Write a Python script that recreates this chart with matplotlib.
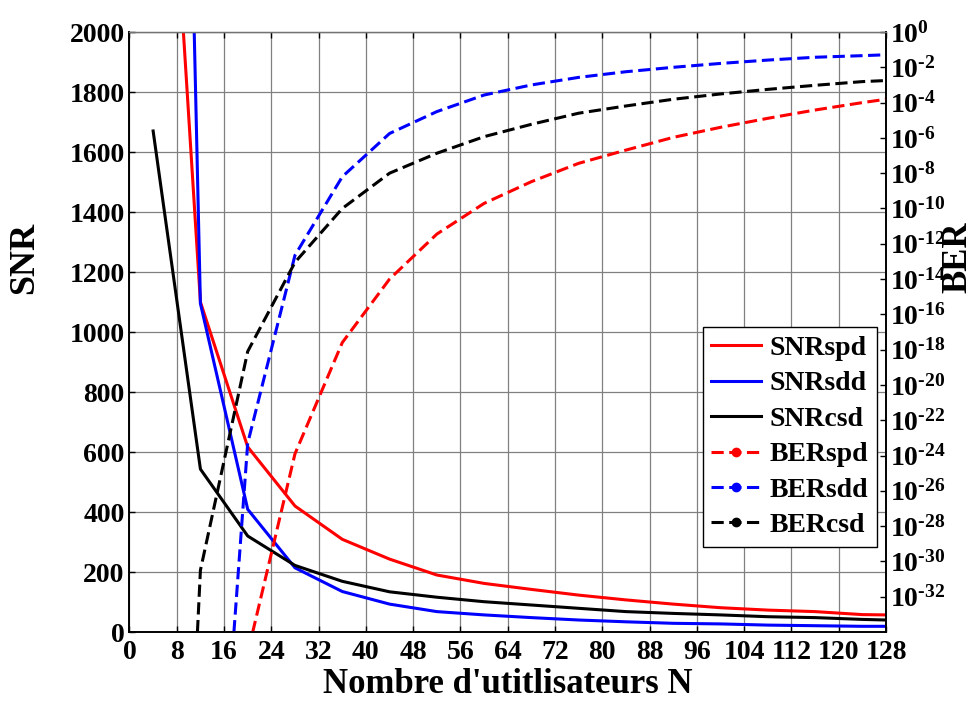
import numpy as np
import matplotlib
matplotlib.use('Agg')
import matplotlib.pyplot as plt
from matplotlib.lines import Line2D

plt.rcParams['font.family'] = 'Liberation Serif'
plt.rcParams['font.weight'] = 'bold'
plt.rcParams['mathtext.fontset'] = 'custom'
plt.rcParams['mathtext.rm'] = 'Liberation Serif:bold'
plt.rcParams['mathtext.bf'] = 'Liberation Serif:bold'

# nombre d'utilisateurs
N = [4, 12, 20, 28, 36, 44, 52, 60, 68, 76, 84, 92, 100, 108, 116, 124, 128]

# SNR (axe gauche)
snr_spd = [3600, 1100, 617, 420, 309, 243, 190, 162, 142, 123, 107, 93, 81, 73, 68, 58, 57]
snr_sdd = [8000, 1095, 409, 214, 135, 93, 68, 57, 48, 40, 34, 29, 27, 23, 21, 19, 19]
snr_csd = [1670, 543, 320, 222, 169, 134, 116, 101, 90, 79, 68, 62, 57, 51, 48, 42, 40]

# BER (axe droit), exposants log10
ber_spd_exp = [-120, -70, -35.2, -23.9, -17.6, -14.0, -11.45, -9.71, -8.48, -7.44, -6.69, -5.97, -5.4, -4.89, -4.42, -4.0, -3.81]
ber_sdd_exp = [-100, -60, -23.3, -12.65, -8.2, -5.75, -4.51, -3.57, -3.0, -2.57, -2.25, -2.0, -1.78, -1.59, -1.43, -1.34, -1.29]
ber_csd_exp = [-86, -30.5, -18.1, -13.05, -10.0, -8.0, -6.87, -5.93, -5.23, -4.6, -4.19, -3.81, -3.51, -3.25, -3.02, -2.81, -2.75]

ber_spd = 10.0 ** np.array(ber_spd_exp)
ber_sdd = 10.0 ** np.array(ber_sdd_exp)
ber_csd = 10.0 ** np.array(ber_csd_exp)

fig = plt.figure(figsize=(9.78, 7.02), dpi=100)
ax = fig.add_axes([0.1324, 0.0997, 0.7736, 0.8547])
ax2 = ax.twinx()

lw = 2.2
dash = (4, 1.8)
ax.plot(N, snr_spd, color='red', lw=lw)
ax.plot(N, snr_sdd, color='blue', lw=lw)
ax.plot(N, snr_csd, color='black', lw=lw)

ax2.plot(N, ber_spd, color='red', lw=lw, dashes=dash)
ax2.plot(N, ber_sdd, color='blue', lw=lw, dashes=dash)
ax2.plot(N, ber_csd, color='black', lw=lw, dashes=dash)

ax.set_xlim(0, 128)
ax.set_ylim(0, 2000)
ax.set_xticks(np.arange(0, 129, 8))
ax.set_yticks(np.arange(0, 2001, 200))
ax.grid(True, color='0.5', lw=0.9)
ax.set_axisbelow(True)
ax.tick_params(axis='both', direction='in', labelsize=20, length=4, width=1, top=True, right=False)
ax.tick_params(axis='x', pad=6)

ax2.set_yscale('log')
ax2.set_ylim(1e-34, 1)
exps = np.arange(0, -33, -2)
ax2.set_yticks(10.0 ** exps)
# trait d'union court dans l'exposant, comme sur la figure d'origine
ax2.set_yticklabels([r'$\mathrm{10^{0}}$'] +
                    [r'$\mathrm{10^{\text{-}%d}}$' % (-e) for e in exps[1:]])
ax2.minorticks_off()
ax2.tick_params(axis='y', direction='in', labelsize=20, length=4, width=1, pad=3)

for a in (ax, ax2):
    for s in ('left', 'right', 'bottom'):
        a.spines[s].set_linewidth(1.2)
    a.spines['top'].set_color('0.45')
    a.spines['top'].set_linewidth(0.9)

ax.set_xlabel("Nombre d'utitlisateurs N", fontsize=25, fontweight='bold', labelpad=2)
ax.set_ylabel('SNR', fontsize=26, fontweight='bold')
ax.yaxis.set_label_coords(-0.138, 0.623)
ax.yaxis.label.set_verticalalignment('center')
ax2.set_ylabel('BER', fontsize=25, fontweight='bold')
ax2.yaxis.set_label_coords(1.095, 0.625)
ax2.yaxis.label.set_verticalalignment('center')

handles = [
    Line2D([], [], color='red', lw=lw),
    Line2D([], [], color='blue', lw=lw),
    Line2D([], [], color='black', lw=lw),
    Line2D([], [], color='red', lw=lw, dashes=dash, marker='.', markersize=12),
    Line2D([], [], color='blue', lw=lw, dashes=dash, marker='.', markersize=12),
    Line2D([], [], color='black', lw=lw, dashes=dash, marker='.', markersize=12),
]
labels = ['SNRspd', 'SNRsdd', 'SNRcsd', 'BERspd', 'BERsdd', 'BERcsd']
leg = ax2.legend(handles, labels, loc='upper left', bbox_to_anchor=(0.758, 0.508),
                 fontsize=20, frameon=True, fancybox=False, framealpha=1,
                 edgecolor='black', borderpad=0.3, labelspacing=0.36,
                 handlelength=1.8, handletextpad=0.3, borderaxespad=0, numpoints=1)
leg.get_frame().set_linewidth(1.0)

fig.savefig('out.png', dpi=100)
